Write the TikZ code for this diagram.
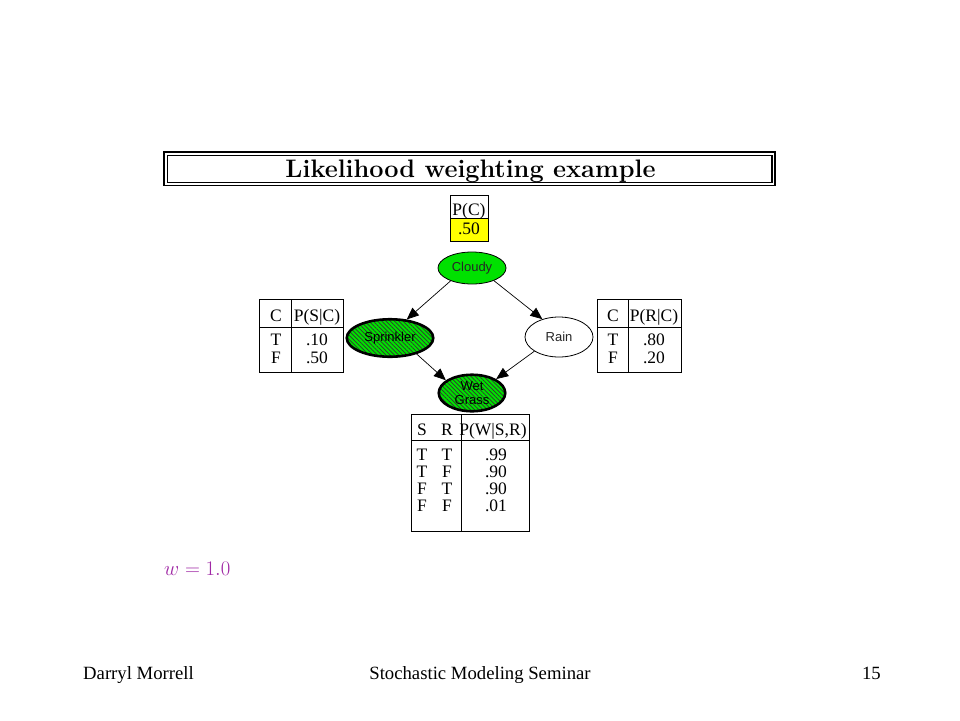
\documentclass[tikz,border=0pt]{standalone}
\usepackage{fontspec}
\newfontfamily\timesf{Liberation Serif}
\newfontfamily\arialf{Liberation Sans}
\usetikzlibrary{shapes.geometric,arrows.meta,patterns.meta}
\definecolor{ngreen}{RGB}{0,225,0}
\definecolor{nyellow}{RGB}{255,255,0}
\definecolor{wmag}{RGB}{160,40,165}
\begin{document}
\begin{tikzpicture}[x=1pt,y=-1pt,
  bn/.style={ellipse,draw,inner sep=0pt,font=\arialf\fontsize{13}{14.5}\selectfont,text=black!85},
  hatched/.style={preaction={fill=ngreen},pattern={Lines[angle=-45,distance=3pt,line width=0.7pt]},pattern color=black!80,line width=2.6pt,text=black},
  plain/.style={line width=0.8pt},
  arr/.style={line width=0.7pt,-{Triangle[length=12pt,width=10pt]}},
  tbl/.style={line width=1pt},
  tt/.style={anchor=base,inner sep=0pt,font=\timesf\fontsize{17.5}{17.5}\selectfont},
  foot/.style={inner sep=0pt,font=\timesf\fontsize{18.7}{20}\selectfont}
]
\useasboundingbox (0,0) rectangle (960,720);
\fill[white] (0,0) rectangle (960,720);

% title
\draw[line width=1.3pt] (164,152) rectangle (775,185.5);
\draw[line width=1.3pt] (167.5,155.5) rectangle (772,182.5);
\node[anchor=base,inner sep=0pt,font=\bfseries\fontsize{25.3}{28}\selectfont] (title) at (470.5,177) {Likelihood weighting example};

% P(C) table
\fill[nyellow] (450,218) rectangle (488,241);
\draw[tbl] (450,195) rectangle (488,241);
\draw[tbl] (450,218) -- (488,218);
\node[tt] (pc) at (469,215) {P(C)};
\node[tt] (pcv) at (469,234) {.50};

% nodes
\node[bn,fill=ngreen,plain,minimum width=68pt,minimum height=32pt] (cloudy) at (472,268) {Cloudy};
\node[bn,hatched,minimum width=86.5pt,minimum height=37.5pt] (sprinkler) at (390,338) {Sprinkler};
\node[bn,fill=white,plain,minimum width=68pt,minimum height=40pt] (rain) at (559,337) {Rain};
\node[bn,hatched,align=center,minimum width=66.5pt,minimum height=36.5pt] (wet) at (472,393) {Wet\\Grass};

% arrows
\draw[arr] (cloudy.211) -- (sprinkler.48);
\draw[arr] (cloudy.330) -- (rain.133);
\draw[arr] (sprinkler.329) -- (wet.154);
\draw[arr] (rain.210) -- (wet.30);

% P(S|C) table
\draw[tbl] (259,299) rectangle (343,372);
\draw[tbl] (291,299) -- (291,372);
\draw[tbl] (259,327) -- (343,327);
\node[tt] (sc) at (276,321) {C};
\node[tt] (sh) at (317,321) {P(S|C)};
\node[tt] (st) at (276,345) {T};
\node[tt] (sv1) at (317,345) {.10};
\node[tt] (sf) at (276,363) {F};
\node[tt] (sv2) at (317,363) {.50};

% P(R|C) table
\draw[tbl] (597,299) rectangle (681,372);
\draw[tbl] (628,299) -- (628,372);
\draw[tbl] (597,327) -- (681,327);
\node[tt] (rc) at (613,321) {C};
\node[tt] (rh) at (654,321) {P(R|C)};
\node[tt] (rt) at (613,345) {T};
\node[tt] (rv1) at (654,345) {.80};
\node[tt] (rf) at (613,363) {F};
\node[tt] (rv2) at (654,363) {.20};

% P(W|S,R) table
\draw[tbl] (411,414) rectangle (529,531);
\draw[tbl] (461,414) -- (461,531);
\draw[tbl] (411,440) -- (529,440);
\node[tt] (ws) at (422,435) {S};
\node[tt] (wr) at (447,435) {R};
\node[tt] (wh) at (493,435) {P(W|S,R)};
\node[tt] (w1s) at (422,460) {T};
\node[tt] (w1r) at (447,460) {T};
\node[tt] (w1v) at (496,460) {.99};
\node[tt] (w2s) at (422,477) {T};
\node[tt] (w2r) at (447,477) {F};
\node[tt] (w2v) at (496,477) {.90};
\node[tt] (w3s) at (422,494) {F};
\node[tt] (w3r) at (447,494) {T};
\node[tt] (w3v) at (496,494) {.90};
\node[tt] (w4s) at (422,511) {F};
\node[tt] (w4r) at (447,511) {F};
\node[tt] (w4v) at (496,511) {.01};

% weight
\node[anchor=base west,inner sep=0pt,text=wmag,font=\fontsize{20}{22}\selectfont] (weight) at (164,575) {$w = 1.0$};

% footer
\node[foot,anchor=base west] (author) at (83,679) {Darryl Morrell};
\node[foot,anchor=base] (seminar) at (480,679) {Stochastic Modeling Seminar};
\node[foot,anchor=base east] (page) at (881,679) {15};
\end{tikzpicture}
\end{document}
